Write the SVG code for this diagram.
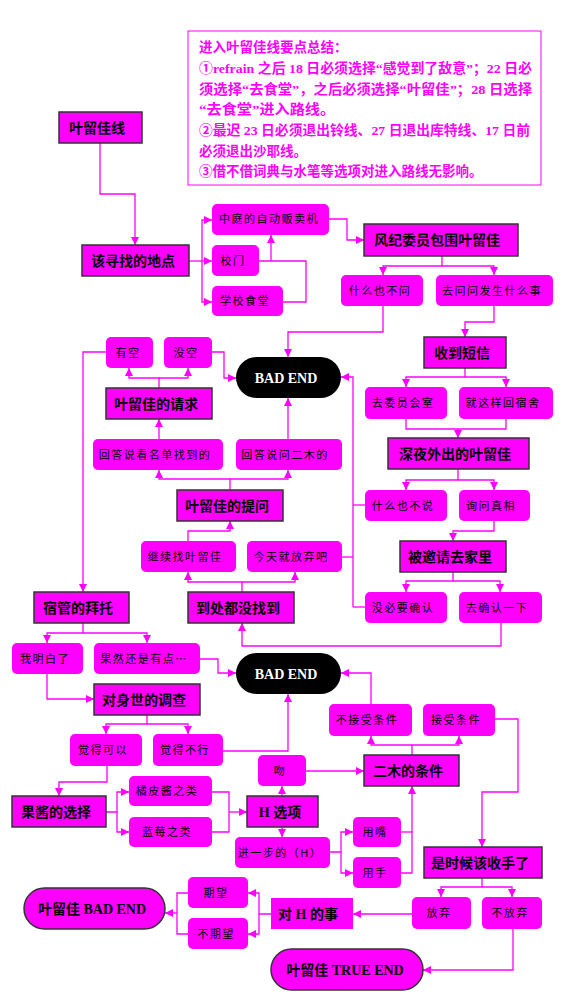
<svg xmlns="http://www.w3.org/2000/svg" width="580" height="998" viewBox="0 0 580 998">
<style>
.b{fill:#FF00FF;stroke:#333;stroke-width:1.5}
.r{fill:#FF00FF}
.k{fill:#000}
.t{font-family:"Liberation Serif","Noto Sans CJK SC",serif;font-weight:bold;font-size:14px;fill:#000;text-anchor:middle}
.w{fill:#fff}
.s{font-family:"Noto Sans CJK SC",sans-serif;font-size:11px;letter-spacing:1.5px;fill:#000;text-anchor:middle}
.n{font-family:"Liberation Serif","Noto Sans CJK SC",serif;font-weight:bold;font-size:13.5px;fill:#FF00FF}
.c path{fill:none;stroke:#FF00FF;stroke-width:1.3}
.c path.a{marker-end:url(#ah)}
</style>
<defs>
<marker id="ah" markerUnits="userSpaceOnUse" markerWidth="8" markerHeight="8" refX="8" refY="4" orient="auto">
<path d="M0,0 L8,4 L0,8 z" fill="#FF00FF"/>
</marker>
</defs>
<rect width="580" height="998" fill="#fff"/>
<g id="notes">
<rect x="188" y="31" width="353" height="154" fill="#fff" stroke="#FF00FF" stroke-width="1"/>
<text class="n" x="199" y="52">进入叶留佳线要点总结：</text>
<text class="n" x="199" y="73" textLength="333" lengthAdjust="spacingAndGlyphs">①refrain 之后 18 日必须选择“感觉到了敌意”；22 日必</text>
<text class="n" x="199" y="94" textLength="333" lengthAdjust="spacingAndGlyphs">须选择“去食堂”，之后必须选择“叶留佳”；28 日选择</text>
<text class="n" x="199" y="114" textLength="136" lengthAdjust="spacingAndGlyphs">“去食堂”进入路线。</text>
<text class="n" x="199" y="135" textLength="331" lengthAdjust="spacingAndGlyphs">②最迟 23 日必须退出铃线、27 日退出库特线、17 日前</text>
<text class="n" x="199" y="156">必须退出沙耶线。</text>
<text class="n" x="199" y="176">③借不借词典与水笔等选项对进入路线无影响。</text>
</g>
<g class="c" id="connectors">
<path class="a" d="M100,143 V194 H135 V245"/>
<path class="a" d="M189,261 H212"/>
<path class="a" d="M202,261 V220 H212"/>
<path class="a" d="M202,261 V302 H212"/>
<path d="M283,302 H306 V261 H259"/>
<path class="a" d="M271,261 V235"/>
<path class="a" d="M329,219 H347 V240 H364"/>
<path class="a" d="M442,256 V266 H383 V275"/>
<path class="a" d="M442,266 H494 V275"/>
<path class="a" d="M383,306 V332 H288 V357"/>
<path class="a" d="M494,306 V322 H465 V337"/>
<path class="a" d="M465,368 V377 H406 V387"/>
<path class="a" d="M465,377 H506 V387"/>
<path d="M406,419 V429 H506 V419"/>
<path class="a" d="M458,429 V438"/>
<path class="a" d="M458,469 V480 H406 V490"/>
<path class="a" d="M458,480 H494 V490"/>
<path d="M365,505 H353"/>
<path d="M365,607 H353"/>
<path d="M342,557 H353"/>
<path class="a" d="M353,607 V377 H341"/>
<path class="a" d="M494,521 V531 H453 V541"/>
<path class="a" d="M453,572 V581 H406 V592"/>
<path class="a" d="M453,581 H500 V592"/>
<path class="a" d="M501,623 V646 H242 V623"/>
<path class="a" d="M242,592 V582 H188 V572"/>
<path class="a" d="M242,582 H295 V572"/>
<path class="a" d="M188,541 V531 H230 V521"/>
<path class="a" d="M230,490 V479 H159 V470"/>
<path class="a" d="M230,479 H288 V470"/>
<path class="a" d="M159,439 V419"/>
<path class="a" d="M288,439 V398"/>
<path class="a" d="M159,388 V378 H129 V368"/>
<path class="a" d="M159,378 H188 V368"/>
<path class="a" d="M212,352 H224 V378 H236"/>
<path class="a" d="M106,352 H83 V592"/>
<path class="a" d="M83,623 V633 H47 V643"/>
<path class="a" d="M83,633 H147 V643"/>
<path class="a" d="M200,659 H218 V673 H236"/>
<path class="a" d="M47,674 V699 H94"/>
<path class="a" d="M147,715 V724 H106 V734"/>
<path class="a" d="M147,724 H188 V734"/>
<path class="a" d="M223,751 H288 V694"/>
<path class="a" d="M107,766 V782 H59 V796"/>
<path class="a" d="M106,812 H117 V792 H129"/>
<path class="a" d="M117,812 V832 H129"/>
<path d="M212,792 H229 V832 H212"/>
<path class="a" d="M229,812 H247"/>
<path class="a" d="M282,796 V786"/>
<path class="a" d="M306,771 H364"/>
<path class="a" d="M412,755 V745 H371 V736"/>
<path class="a" d="M412,745 H459 V736"/>
<path class="a" d="M371,704 V673 H341"/>
<path class="a" d="M495,719 H518 V792 H482 V847"/>
<path class="a" d="M282,827 V837"/>
<path class="a" d="M330,852 H341 V832 H353"/>
<path class="a" d="M341,852 V873 H353"/>
<path d="M401,832 H412"/>
<path class="a" d="M401,873 H412 V786"/>
<path class="a" d="M482,878 V887 H441 V897"/>
<path class="a" d="M482,887 H512 V897"/>
<path class="a" d="M412,914 H353"/>
<path class="a" d="M271,914 H259 V893 H248"/>
<path class="a" d="M259,914 V934 H248"/>
<path d="M188,893 H177 V934 H188"/>
<path class="a" d="M177,913 H165"/>
<path class="a" d="M513,929 V970 H423"/>
</g>
<g id="n1"><rect class="b" x="59" y="112" width="83" height="31"/><text class="t" x="97" y="133">叶留佳线</text></g>
<g id="n2"><rect class="b" x="82" y="245" width="107" height="31"/><text class="t" x="133" y="266">该寻找的地点</text></g>
<g id="n3"><rect class="r" x="212" y="204" width="117" height="31" rx="5"/><text class="s" x="269" y="223">中庭的自动贩卖机</text></g>
<g id="n4"><rect class="r" x="212" y="245" width="47" height="31" rx="5"/><text class="s" x="233" y="265">校门</text></g>
<g id="n5"><rect class="r" x="212" y="286" width="71" height="30" rx="5"/><text class="s" x="245" y="305">学校食堂</text></g>
<g id="n6"><rect class="b" x="364" y="224" width="154" height="32"/><text class="t" x="437" y="245">风纪委员包围叶留佳</text></g>
<g id="n7"><rect class="r" x="341" y="275" width="82" height="31" rx="5"/><text class="s" x="380" y="295">什么也不问</text></g>
<g id="n8"><rect class="r" x="436" y="275" width="117" height="31" rx="5"/><text class="s" x="492" y="295">去问问发生什么事</text></g>
<g id="n9"><rect class="k" x="236" y="357" width="105" height="41" rx="20.5"/><text class="t w" x="286" y="383">BAD END</text></g>
<g id="n10"><rect class="r" x="106" y="337" width="47" height="31" rx="5"/><text class="s" x="128" y="357">有空</text></g>
<g id="n11"><rect class="r" x="164" y="337" width="48" height="31" rx="5"/><text class="s" x="186" y="357">没空</text></g>
<g id="n12"><rect class="b" x="106" y="388" width="106" height="31"/><text class="t" x="156" y="409">叶留佳的请求</text></g>
<g id="n13"><rect class="r" x="93" y="439" width="130" height="31" rx="5"/><text class="s" x="155" y="459">回答说看名单找到的</text></g>
<g id="n14"><rect class="r" x="236" y="439" width="106" height="31" rx="5"/><text class="s" x="285" y="459">回答说问二木的</text></g>
<g id="n15"><rect class="b" x="424" y="337" width="82" height="31"/><text class="t" x="462" y="358">收到短信</text></g>
<g id="n16"><rect class="r" x="365" y="387" width="82" height="32" rx="5"/><text class="s" x="403" y="407">去委员会室</text></g>
<g id="n17"><rect class="r" x="459" y="387" width="94" height="32" rx="5"/><text class="s" x="503" y="407">就这样回宿舍</text></g>
<g id="n18"><rect class="b" x="388" y="438" width="141" height="31"/><text class="t" x="455" y="459">深夜外出的叶留佳</text></g>
<g id="n19"><rect class="r" x="365" y="490" width="82" height="31" rx="5"/><text class="s" x="403" y="510">什么也不说</text></g>
<g id="n20"><rect class="r" x="459" y="490" width="71" height="31" rx="5"/><text class="s" x="491" y="510">询问真相</text></g>
<g id="n21"><rect class="b" x="177" y="490" width="106" height="31"/><text class="t" x="227" y="511">叶留佳的提问</text></g>
<g id="n22"><rect class="r" x="141" y="541" width="95" height="31" rx="5"/><text class="s" x="185" y="561">继续找叶留佳</text></g>
<g id="n23"><rect class="r" x="247" y="541" width="95" height="31" rx="5"/><text class="s" x="291" y="561">今天就放弃吧</text></g>
<g id="n24"><rect class="b" x="400" y="541" width="106" height="31"/><text class="t" x="450" y="562">被邀请去家里</text></g>
<g id="n25"><rect class="r" x="365" y="592" width="82" height="31" rx="5"/><text class="s" x="403" y="612">没必要确认</text></g>
<g id="n26"><rect class="r" x="459" y="592" width="83" height="31" rx="5"/><text class="s" x="497" y="612">去确认一下</text></g>
<g id="n27"><rect class="b" x="34" y="592" width="95" height="31"/><text class="t" x="78" y="613">宿管的拜托</text></g>
<g id="n28"><rect class="b" x="188" y="592" width="106" height="31"/><text class="t" x="238" y="613">到处都没找到</text></g>
<g id="n29"><rect class="r" x="12" y="643" width="71" height="31" rx="5"/><text class="s" x="45" y="663">我明白了</text></g>
<g id="n30"><rect class="r" x="94" y="643" width="106" height="31" rx="5"/><text class="s" x="144" y="663">果然还是有点…</text></g>
<g id="n31"><rect class="k" x="236" y="653" width="105" height="41" rx="20.5"/><text class="t w" x="286" y="679">BAD END</text></g>
<g id="n32"><rect class="b" x="94" y="684" width="106" height="31"/><text class="t" x="144" y="705">对身世的调查</text></g>
<g id="n33"><rect class="r" x="70" y="734" width="72" height="32" rx="5"/><text class="s" x="103" y="754">觉得可以</text></g>
<g id="n34"><rect class="r" x="153" y="734" width="70" height="32" rx="5"/><text class="s" x="185" y="754">觉得不行</text></g>
<g id="n35"><rect class="r" x="329" y="704" width="83" height="32" rx="5"/><text class="s" x="367" y="724">不接受条件</text></g>
<g id="n36"><rect class="r" x="423" y="704" width="72" height="32" rx="5"/><text class="s" x="456" y="724">接受条件</text></g>
<g id="n37"><rect class="r" x="258" y="755" width="48" height="31" rx="5"/><text class="s" x="280" y="775">吻</text></g>
<g id="n38"><rect class="b" x="364" y="755" width="95" height="31"/><text class="t" x="408" y="776">二木的条件</text></g>
<g id="n39"><rect class="r" x="129" y="776" width="83" height="30" rx="5"/><text class="s" x="167" y="795">橘皮酱之类</text></g>
<g id="n40"><rect class="r" x="129" y="817" width="83" height="30" rx="5"/><text class="s" x="167" y="836">蓝莓之类</text></g>
<g id="n41"><rect class="b" x="12" y="796" width="94" height="31"/><text class="t" x="56" y="817">果酱的选择</text></g>
<g id="n42"><rect class="b" x="247" y="796" width="71" height="31"/><text class="t" x="280" y="817">H 选项</text></g>
<g id="n43"><rect class="r" x="235" y="837" width="95" height="31" rx="5"/><text class="s" x="280" y="857">进一步的（H）</text></g>
<g id="n44"><rect class="r" x="353" y="817" width="48" height="30" rx="5"/><text class="s" x="375" y="836">用嘴</text></g>
<g id="n45"><rect class="r" x="353" y="857" width="48" height="31" rx="5"/><text class="s" x="375" y="877">用手</text></g>
<g id="n46"><rect class="b" x="424" y="847" width="118" height="31"/><text class="t" x="480" y="868">是时候该收手了</text></g>
<g id="n47"><rect class="r" x="412" y="897" width="59" height="32" rx="5"/><text class="s" x="439" y="917">放弃</text></g>
<g id="n48"><rect class="r" x="482" y="897" width="60" height="32" rx="5"/><text class="s" x="510" y="917">不放弃</text></g>
<g id="n49"><rect class="r" x="271" y="898" width="82" height="31"/><text class="t" x="308" y="919">对 H 的事</text></g>
<g id="n50"><rect class="r" x="188" y="877" width="60" height="31" rx="5"/><text class="s" x="216" y="897">期望</text></g>
<g id="n51"><rect class="r" x="188" y="918" width="60" height="31" rx="5"/><text class="s" x="216" y="938">不期望</text></g>
<g id="n52"><rect class="b" x="24" y="888" width="141" height="41" rx="20.5"/><text class="t" x="92" y="914">叶留佳 BAD END</text></g>
<g id="n53"><rect class="b" x="271" y="949" width="152" height="41" rx="20.5"/><text class="t" x="345" y="975">叶留佳 TRUE END</text></g>
</svg>
